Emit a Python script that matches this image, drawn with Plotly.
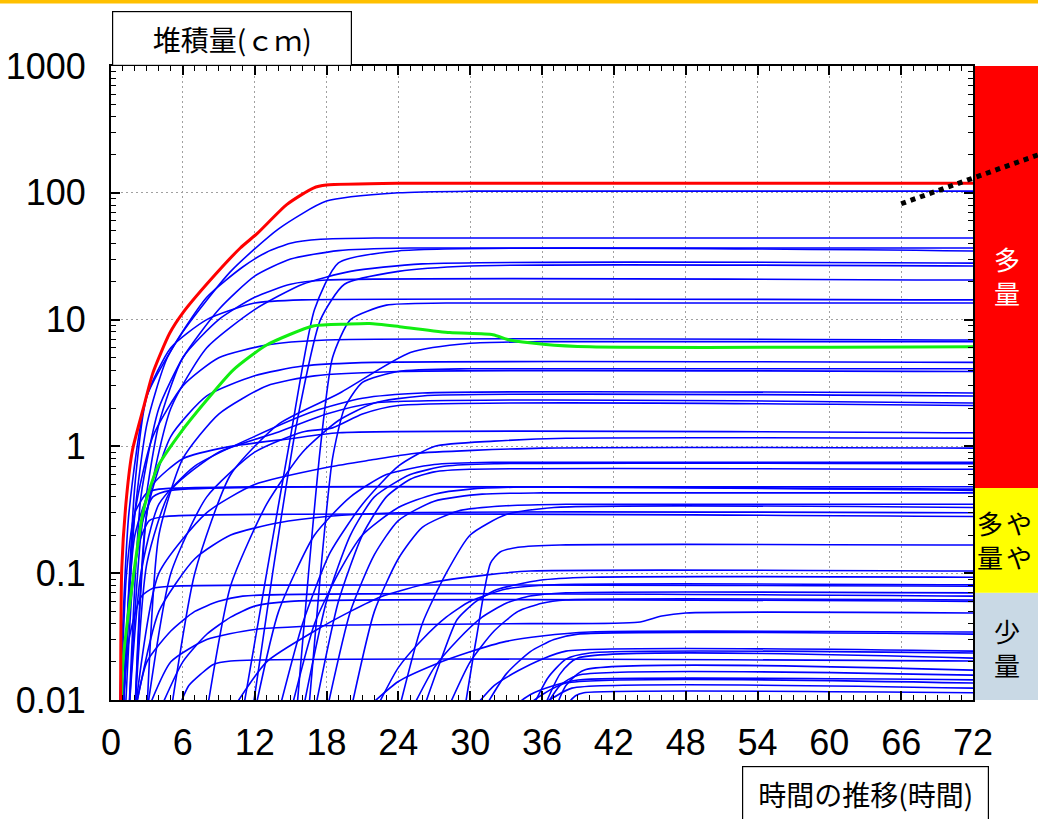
import plotly.graph_objects as go

# ---------------- data ----------------
hour_ticks = [0, 6, 12, 18, 24, 30, 36, 42, 48, 54, 60, 66, 72]
depth_ticks = [0.01, 0.1, 1, 10, 100, 1000]
depth_ticktext = ["0.01", "0.1", "1", "10", "100", "1000"]

# red: maximum member
max_t = [0.8, 0.9, 1.3, 1.8, 2.7, 3.5, 4.9, 6.0, 8.3, 10.8, 12.2, 14.7, 16.9, 18, 24, 72]
max_v = [0.008, 0.11, 0.4, 0.94, 2.0, 3.8, 7.8, 11.3, 20.5, 36.7, 47.6, 81, 109, 115, 119, 119]

# green: ensemble average
mean_t = [0.85, 1.0, 1.75, 2.7, 3.9, 5.8, 8.0, 10.2, 13.0, 16.9, 19.7, 21.6, 24.1, 28.3, 31.9, 33.3, 36.1, 40, 72]
mean_v = [0.008, 0.02, 0.078, 0.31, 0.69, 1.28, 2.32, 4.0, 6.3, 8.9, 9.2, 9.3, 8.8, 7.9, 7.6, 6.9, 6.4, 6.1, 6.1]

# blue members: (hours, depth cm)
early_members = [
    ([0.7, 1.5, 3, 6, 10, 14, 18, 24, 30, 72], [0.008, 0.3, 2.5, 8, 24, 52, 86, 100, 103, 103]),
    ([1.0, 2, 3, 4.7, 8, 11, 13, 15, 17.5, 22, 72], [0.008, 0.3, 1.5, 5, 15, 26, 34, 40, 43, 44, 44]),
    ([1.5, 2.5, 4, 6, 9, 12, 15, 19, 25, 72], [0.008, 0.4, 2, 5, 12, 22, 30, 35, 36.7, 36.7]),
    ([2, 3, 5, 8, 12, 16, 20, 26, 72], [0.008, 0.3, 2, 6, 12, 19, 24, 27.5, 27.9]),
    ([1.5, 2.5, 4, 6, 9, 12, 15, 18, 72], [0.008, 0.2, 1.5, 5, 10, 15, 19, 20.5, 20.5]),
    ([1, 2, 3, 5, 8, 12, 16, 72], [0.008, 0.5, 2.5, 6, 10, 13.5, 14.3, 14.3]),
    ([1, 2, 3.5, 6, 9, 13, 18, 72], [0.008, 0.3, 1.2, 3, 5, 6.3, 6.9, 6.9]),
    ([2, 3, 5, 8, 12, 16, 22, 72], [0.008, 0.3, 1.2, 2.5, 3.6, 4.3, 4.6, 4.6]),
    ([3, 4, 6, 9, 13, 17, 24, 72], [0.008, 0.2, 0.8, 1.8, 3, 3.6, 3.9, 3.9]),
    ([1.5, 2.5, 4, 7, 12, 17, 21, 26, 72], [0.008, 0.1, 0.35, 0.7, 1.2, 1.9, 2.4, 2.64, 2.64]),
    ([2, 3, 5, 9, 14, 18, 22, 72], [0.008, 0.12, 0.45, 0.9, 1.3, 1.8, 2.2, 2.2]),
    ([3, 5, 8, 12, 16, 18.5, 21, 24, 72], [0.008, 0.1, 0.4, 0.9, 1.3, 1.4, 1.8, 2.1, 2.1]),
    ([1, 2, 3.5, 6, 10, 15, 19, 72], [0.008, 0.2, 0.5, 0.8, 1.0, 1.15, 1.28, 1.28]),
    ([2, 4, 8, 12, 18.3, 21.7, 25.3, 36, 72], [0.008, 0.1, 0.3, 0.5, 0.69, 0.78, 0.88, 0.97, 0.97]),
    ([0.8, 1.3, 2, 3, 4, 72], [0.008, 0.1, 0.3, 0.43, 0.46, 0.46]),
    ([1.2, 1.8, 2.6, 3.5, 5, 72], [0.008, 0.08, 0.25, 0.4, 0.45, 0.45]),
    ([1, 1.6, 2.4, 3.2, 4.5, 72], [0.008, 0.06, 0.18, 0.26, 0.28, 0.28]),
    ([2, 4, 7, 10, 14, 18, 24, 72], [0.008, 0.05, 0.13, 0.2, 0.25, 0.28, 0.3, 0.3]),
    ([1, 1.5, 2.5, 3.5, 5, 72], [0.008, 0.03, 0.065, 0.076, 0.079, 0.079]),
    ([2, 3, 5, 7, 9, 11, 72], [0.008, 0.02, 0.035, 0.05, 0.06, 0.066, 0.066]),
    ([4, 6, 8, 10, 12, 15, 72], [0.008, 0.02, 0.033, 0.045, 0.055, 0.06, 0.06]),
    ([3, 5, 8, 12, 20, 35, 44, 46, 48, 72], [0.008, 0.02, 0.03, 0.036, 0.039, 0.04, 0.041, 0.046, 0.0486, 0.0486]),
    ([5.5, 6.5, 7.5, 8.5, 10, 72], [0.008, 0.013, 0.016, 0.019, 0.0203, 0.0203]),
]

mid_members = [
    ([11, 13, 15, 17, 19, 24, 72], [0.008, 0.1, 1.2, 12, 28, 34.8, 34.8]),
    ([11.8, 13.5, 15.5, 17.5, 19.5, 24, 30, 72], [0.008, 0.1, 1.5, 10, 19, 24, 26.5, 26.5]),
    ([15.5, 16.5, 17.5, 18.5, 20, 23, 28, 72], [0.008, 0.1, 1, 5, 10, 13, 13.5, 13.5]),
    ([16.5, 17.5, 18.5, 19.5, 21, 24, 30, 72], [0.008, 0.1, 0.8, 2, 3.2, 3.9, 4.1, 4.1]),
    ([5, 7, 10, 14, 19, 25, 30, 36, 72], [0.008, 0.1, 0.6, 1.5, 2.6, 5.5, 6.5, 6.7, 6.7]),
    ([8, 10, 13, 16, 19, 22, 26, 72], [0.008, 0.08, 0.35, 0.9, 1.6, 2.2, 2.5, 2.5]),
    ([14, 16, 18.3, 21, 24, 27, 32, 38, 72], [0.008, 0.04, 0.145, 0.35, 0.7, 1.0, 1.1, 1.16, 1.16]),
    ([12, 14, 17, 20, 23, 27, 32, 72], [0.008, 0.05, 0.2, 0.4, 0.6, 0.72, 0.75, 0.75]),
    ([16, 18, 20, 22, 25, 28, 32, 72], [0.008, 0.06, 0.2, 0.4, 0.6, 0.7, 0.73, 0.73]),
    ([17, 19, 21, 23, 25, 27, 30, 72], [0.008, 0.06, 0.2, 0.4, 0.55, 0.63, 0.66, 0.66]),
    ([15, 17, 19, 21, 24, 27, 30, 35, 72], [0.008, 0.04, 0.1, 0.2, 0.33, 0.42, 0.46, 0.48, 0.48]),
    ([18, 20, 22, 24, 27, 31, 36, 72], [0.008, 0.05, 0.14, 0.26, 0.37, 0.42, 0.43, 0.43]),
    ([10, 13, 17, 20, 22.5, 26.7, 31.4, 35, 72], [0.008, 0.02, 0.035, 0.05, 0.065, 0.084, 0.097, 0.104, 0.104]),
]

late_members = [
    ([20, 22, 24, 26, 29, 33, 38, 72], [0.008, 0.05, 0.13, 0.23, 0.31, 0.34, 0.35, 0.35]),
    ([24, 26, 28, 30, 33, 37, 72], [0.008, 0.04, 0.1, 0.2, 0.29, 0.33, 0.33]),
    ([29.5, 30.5, 31.7, 32.5, 34, 37.5, 72], [0.008, 0.03, 0.12, 0.147, 0.16, 0.167, 0.167]),
    ([26, 27.5, 28.9, 30.5, 32.2, 35.8, 40, 72], [0.008, 0.02, 0.043, 0.06, 0.074, 0.088, 0.093, 0.093]),
    ([22, 24, 26, 28, 30, 33, 37, 72], [0.008, 0.018, 0.03, 0.045, 0.06, 0.075, 0.081, 0.081]),
    ([25, 27, 29, 31, 33, 35, 38, 72], [0.008, 0.018, 0.03, 0.045, 0.058, 0.066, 0.07, 0.07]),
    ([28, 30, 32, 34, 36, 38, 72], [0.008, 0.02, 0.035, 0.05, 0.058, 0.0615, 0.0615]),
    ([21, 24, 27, 30, 33, 36, 40, 72], [0.008, 0.014, 0.019, 0.024, 0.029, 0.032, 0.0344, 0.0344]),
    ([31, 33, 35, 37, 39, 72], [0.008, 0.016, 0.024, 0.03, 0.0331, 0.0331]),
    ([30, 32, 34, 36, 38, 72], [0.008, 0.013, 0.017, 0.021, 0.0243, 0.0243]),
    ([35, 36.5, 38, 40, 72], [0.008, 0.015, 0.021, 0.0235, 0.0235]),
    ([36, 37.5, 39, 72], [0.008, 0.016, 0.0214, 0.0214]),
    ([37, 38, 39.5, 72], [0.008, 0.013, 0.0172, 0.0172]),
    ([36, 37.5, 39, 72], [0.008, 0.013, 0.0157, 0.0157]),
    ([33, 35, 37, 39, 72], [0.008, 0.011, 0.013, 0.0144, 0.0144]),
    ([34, 36, 38, 72], [0.008, 0.011, 0.0136, 0.0136]),
    ([35, 37, 38.5, 72], [0.008, 0.0105, 0.0124, 0.0124]),
    ([37.5, 38.8, 39.5, 72], [0.008, 0.0108, 0.0114, 0.0114]),
]

# category bands (cm)
band_edges = [0.01, 0.07, 0.47, 1000]
band_colors = ["#C9D9E5", "#FFFF00", "#FF0000"]

# dotted guide line (hours, cm)
guide_t = [66, 77.5]
guide_v = [82, 200]

# ---------------- layout helpers ----------------
W, H = 1038, 819
L, R, T, B = 111, 65, 66, 119
PW, PH = W - L - R, H - T - B


def pxx(px):
    return (px - L) / PW


def pxy(py):
    return (H - B - py) / PH


NUM_FONT = "Liberation Sans, Arial, sans-serif"
JP_FONT = "Noto Sans CJK JP, sans-serif"

fig = go.Figure()

for t, v in early_members + mid_members + late_members:
    fig.add_trace(go.Scatter(x=t, y=v, mode="lines",
                             line=dict(color="#0000FF", width=1.6, shape="spline", smoothing=0.6),
                             hoverinfo="skip", showlegend=False))

fig.add_trace(go.Scatter(x=mean_t, y=mean_v, mode="lines",
                         line=dict(color="#11EE11", width=3, shape="spline", smoothing=0.6),
                         hoverinfo="skip", showlegend=False))
fig.add_trace(go.Scatter(x=max_t, y=max_v, mode="lines",
                         line=dict(color="#FF0000", width=3, shape="spline", smoothing=0.6),
                         hoverinfo="skip", showlegend=False))

shapes = []
for i, col in enumerate(band_colors):
    shapes.append(dict(type="rect", xref="paper", yref="y", x0=1, x1=pxx(W + 10),
                       y0=band_edges[i], y1=band_edges[i + 1], fillcolor=col,
                       line=dict(width=0), layer="below"))
shapes.append(dict(type="line", xref="paper", yref="y",
                   x0=guide_t[0] / hour_ticks[-1], x1=guide_t[1] / hour_ticks[-1],
                   y0=guide_v[0], y1=guide_v[1],
                   line=dict(color="black", width=5, dash="dot"), layer="above"))
shapes.append(dict(type="rect", xref="paper", yref="paper", x0=pxx(-5), x1=pxx(W + 5),
                   y0=pxy(3.5), y1=pxy(-5), fillcolor="#FFC000", line=dict(width=0)))

annotations = [
    dict(text="堆積量(ｃｍ)", xref="paper", yref="paper", x=pxx(232), y=pxy(38),
         xanchor="center", yanchor="middle", showarrow=False,
         width=238, height=53, borderpad=0, borderwidth=1.2, bordercolor="black",
         bgcolor="white", font=dict(family=JP_FONT, size=28, color="black")),
    dict(text="時間の推移(時間)", xref="paper", yref="paper", x=pxx(865), y=pxy(794),
         xanchor="center", yanchor="middle", showarrow=False,
         width=245, height=54, borderpad=0, borderwidth=1.2, bordercolor="black",
         bgcolor="white", font=dict(family=JP_FONT, size=28, color="black")),
    dict(text="多<br>量", xref="paper", yref="paper", x=pxx(1007), y=pxy(275),
         xanchor="center", yanchor="middle", showarrow=False,
         font=dict(family=JP_FONT, size=26, color="white")),
    dict(text="や<br>や", xref="paper", yref="paper", x=pxx(1019), y=pxy(539),
         xanchor="center", yanchor="middle", showarrow=False,
         font=dict(family=JP_FONT, size=26, color="black")),
    dict(text="多<br>量", xref="paper", yref="paper", x=pxx(990), y=pxy(539),
         xanchor="center", yanchor="middle", showarrow=False,
         font=dict(family=JP_FONT, size=26, color="black")),
    dict(text="少<br>量", xref="paper", yref="paper", x=pxx(1007), y=pxy(647),
         xanchor="center", yanchor="middle", showarrow=False,
         font=dict(family=JP_FONT, size=26, color="black")),
]

axis_common = dict(
    showline=True, linecolor="black", linewidth=2, mirror="allticks",
    ticks="inside", ticklen=9, tickwidth=1.5, tickcolor="black",
    showgrid=True, gridcolor="#A0A0A0", gridwidth=1, griddash="2px,3px",
    zeroline=False, automargin=False,
    tickfont=dict(family=NUM_FONT, size=36, color="black"),
)

fig.update_layout(
    width=W, height=H,
    margin=dict(l=L, r=R, t=T, b=B, pad=0, autoexpand=False),
    paper_bgcolor="white", plot_bgcolor="rgba(0,0,0,0)",
    showlegend=False,
    xaxis=dict(range=[0, 72], tickmode="array", tickvals=hour_ticks,
               ticktext=[str(h) for h in hour_ticks],
               minor=dict(ticks="inside", ticklen=5, tickwidth=1.2, tickcolor="black",
                          dtick=1, showgrid=False),
               ticklabelstandoff=10, **axis_common),
    yaxis=dict(type="log", range=[-2, 3], tickmode="array", tickvals=depth_ticks,
               ticktext=depth_ticktext,
               minor=dict(ticks="inside", ticklen=5, tickwidth=1.2, tickcolor="black",
                          dtick="D1", showgrid=False),
               ticklabelstandoff=16, **axis_common),
    shapes=shapes,
    annotations=annotations,
)

fig.write_html("out.html", config={"displayModeBar": False},
               post_script="document.body.style.margin='0px';document.body.style.overflow='hidden';")
